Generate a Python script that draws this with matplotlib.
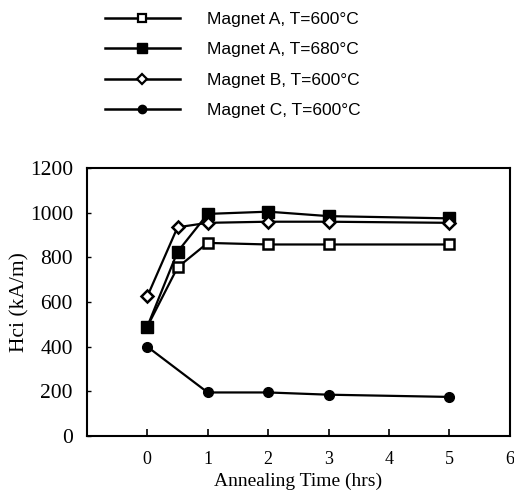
import matplotlib.pyplot as plt
from matplotlib.lines import Line2D

# annealing time (hrs)
t_abc = [0, 0.5, 1, 2, 3, 5]
t_c = [0, 1, 2, 3, 5]

a_600 = [490, 755, 865, 858, 858, 858]
a_680 = [490, 825, 995, 1005, 985, 975]
b_600 = [625, 935, 955, 960, 960, 955]
c_600 = [400, 195, 195, 185, 175]

labels = ["Magnet A, T=600°C", "Magnet A, T=680°C",
          "Magnet B, T=600°C", "Magnet C, T=600°C"]

fig = plt.figure(figsize=(5.14, 4.96), dpi=100)
ax = fig.add_axes([0.169, 0.121, 0.823, 0.540])

ax.plot(t_abc, a_600, 'k-', lw=1.6, marker='s', ms=7, mfc='white', mew=1.8)
ax.plot(t_abc, a_680, 'k-', lw=1.6, marker='s', ms=8, mfc='black')
ax.plot(t_abc, b_600, 'k-', lw=1.6, marker='D', ms=6, mfc='white', mew=1.8)
ax.plot(t_c, c_600, 'k-', lw=1.6, marker='o', ms=7, mfc='black')

ax.set_xlim(-1, 6)
ax.set_ylim(0, 1200)
ax.set_xticks(range(0, 7))
ax.set_yticks(range(0, 1201, 200))
ax.tick_params(axis='x', direction='in', length=5, width=1.2, pad=11)
ax.tick_params(axis='y', direction='in', length=3, width=1.0, pad=10)
for lab in ax.get_xticklabels():
    lab.set_family('Liberation Serif')
    lab.set_fontsize(13)
for lab in ax.get_yticklabels():
    lab.set_family('Liberation Serif')
    lab.set_fontsize(15.5)
for s in ax.spines.values():
    s.set_linewidth(1.5)

ax.set_xlabel("Annealing Time (hrs)", family='Liberation Serif', fontsize=14, labelpad=3)
ax.set_ylabel("Hci (kA/m)", family='Liberation Serif', fontsize=15.5, labelpad=0)

handles = [
    Line2D([], [], color='k', lw=1.8, marker='s', ms=6, mfc='white', mew=1.6),
    Line2D([], [], color='k', lw=1.8, marker='s', ms=7, mfc='black'),
    Line2D([], [], color='k', lw=1.8, marker='D', ms=5, mfc='white', mew=1.6),
    Line2D([], [], color='k', lw=1.8, marker='o', ms=6, mfc='black'),
]
fig.legend(handles, labels, loc='upper left', bbox_to_anchor=(0.174, 1.008),
           frameon=False, handlelength=4.3, handletextpad=1.55,
           labelspacing=0.88, prop={'family': 'Liberation Sans', 'size': 12.5})

plt.savefig("out.png", dpi=100)
